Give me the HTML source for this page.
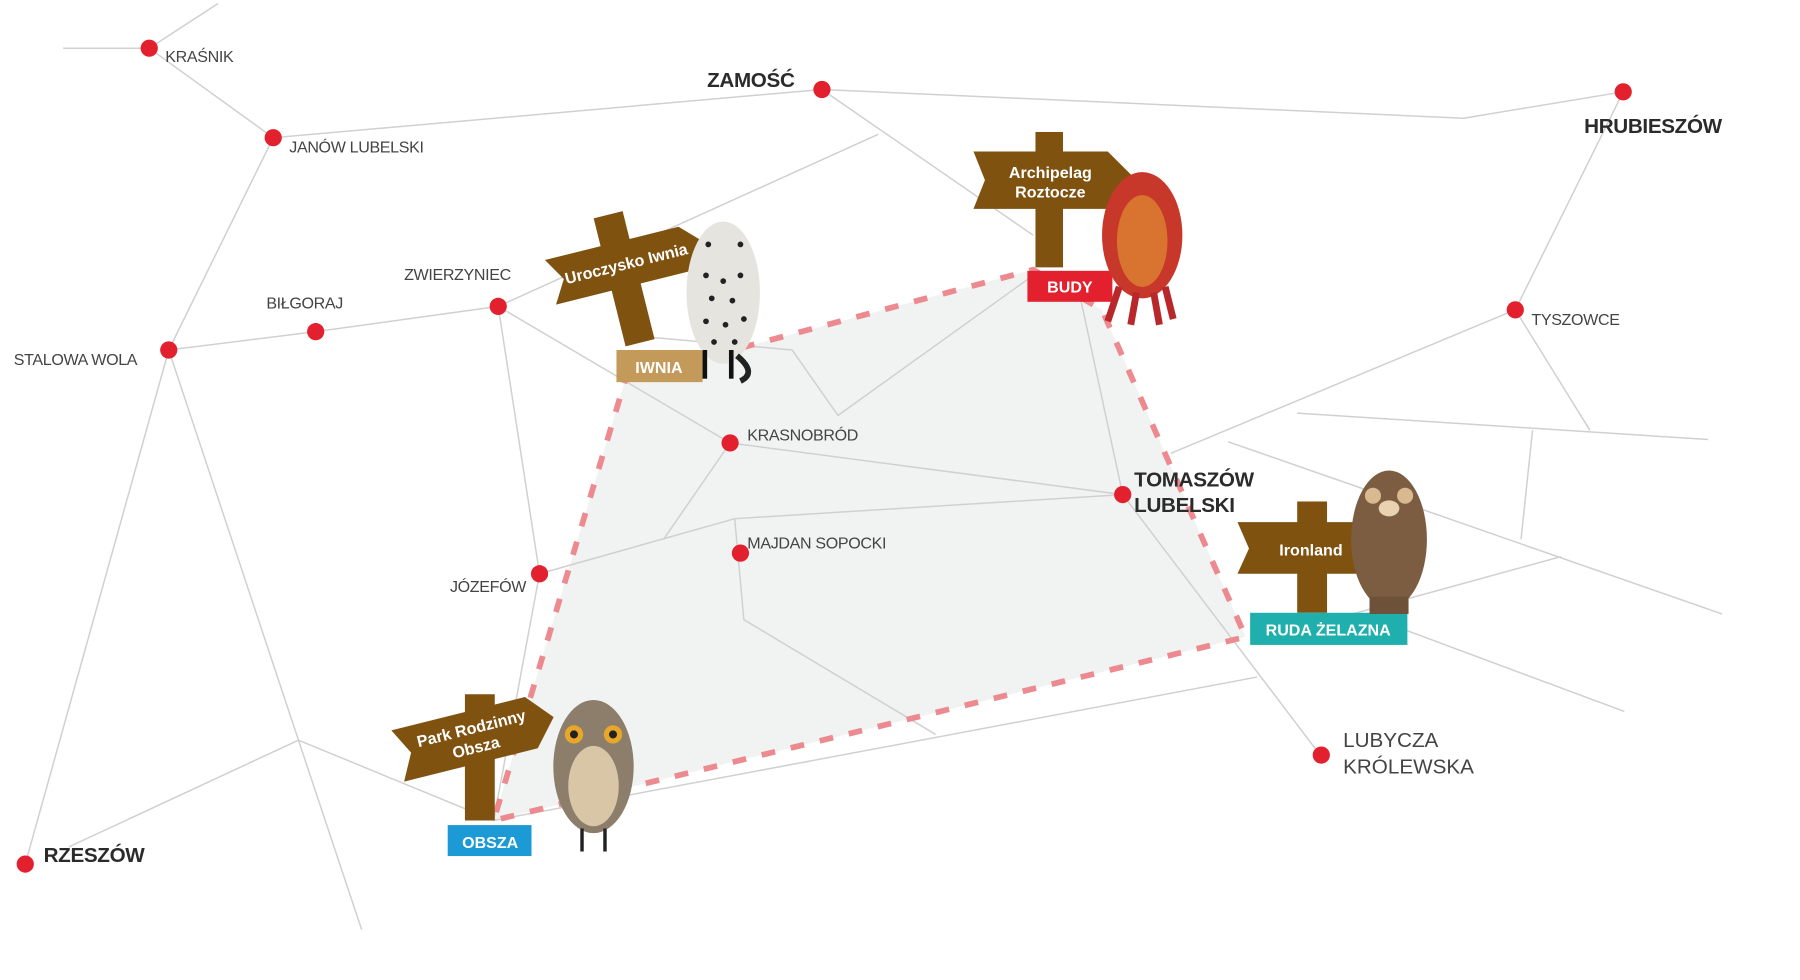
<!DOCTYPE html>
<html><head><meta charset="utf-8"><style>
html,body{margin:0;padding:0;background:#fff;width:1800px;height:980px;overflow:hidden}
svg{display:block}
text{font-family:"Liberation Sans",sans-serif}
.l{stroke:#d0d0d0;stroke-width:1.3;fill:none}
.c{fill:#e3202e}
.t{font-size:14px;fill:#444;letter-spacing:-0.3px}
.tb{font-size:18px;font-weight:bold;fill:#2b2b2b;letter-spacing:-0.3px}
.sg{fill:#fff;font-weight:bold;font-size:14px}
.post{fill:#7f5210}
</style></head><body>
<svg width="1800" height="980" viewBox="0 0 1568 854" preserveAspectRatio="none">
<polygon points="545,330 900,235 960,270 1085,555 430,715" fill="#f1f2f2"/>
<g class="l">
<path d="M55,42 L130,42 L190,3"/>
<path d="M130,42 L238,120 L716,78 L1275,103 L1414,80"/>
<path d="M716,78 L900,205"/>
<path d="M238,120 L147,305 L275,289 L434,267 L765,117"/>
<path d="M147,305 L22,753"/>
<path d="M147,305 L260,645 L315,810"/>
<path d="M260,645 L60,738"/>
<path d="M260,645 L430,715"/>
<path d="M434,267 L470,500 L430,715"/>
<path d="M434,267 L636,386 L978,431"/>
<path d="M636,386 L578,470"/>
<path d="M470,500 L640,452 L978,431"/>
<path d="M640,452 L648,540 L815,640"/>
<path d="M545,292 L690,305 L730,362 L900,240"/>
<path d="M978,431 L938,245"/>
<path d="M978,431 L1150,658"/>
<path d="M1020,395 L1320,270 L1414,80"/>
<path d="M1320,270 L1385,375"/>
<path d="M1130,360 L1488,383"/>
<path d="M1335,375 L1325,470"/>
<path d="M1070,385 L1500,535"/>
<path d="M1360,485 L1160,540"/>
<path d="M1200,540 L1415,620"/>
<path d="M430,715 L1095,590"/>
</g>
<polygon points="545,330 900,235 960,270 1085,555 430,715" fill="none" stroke="#ec8a8f" stroke-width="5" stroke-dasharray="12,14"/>
<g class="c">
<circle cx="130" cy="42" r="7.5"/><circle cx="238" cy="120" r="7.5"/><circle cx="716" cy="78" r="7.5"/>
<circle cx="1414" cy="80" r="7.5"/><circle cx="434" cy="267" r="7.5"/><circle cx="275" cy="289" r="7.5"/>
<circle cx="147" cy="305" r="7.5"/><circle cx="1320" cy="270" r="7.5"/><circle cx="636" cy="386" r="7.5"/>
<circle cx="978" cy="431" r="7.5"/><circle cx="645" cy="482" r="7.5"/><circle cx="470" cy="500" r="7.5"/>
<circle cx="1151" cy="658" r="7.5"/><circle cx="22" cy="753" r="7.5"/>
</g>
<text class="t" x="144" y="54">KRAŚNIK</text>
<text class="t" x="252" y="133">JANÓW LUBELSKI</text>
<text class="tb" x="616" y="76">ZAMOŚĆ</text>
<text class="tb" x="1380" y="116">HRUBIESZÓW</text>
<text class="t" x="352" y="244">ZWIERZYNIEC</text>
<text class="t" x="232" y="269">BIŁGORAJ</text>
<text class="t" x="12" y="318">STALOWA WOLA</text>
<text class="t" x="1334" y="283">TYSZOWCE</text>
<text class="t" x="651" y="384">KRASNOBRÓD</text>
<text class="tb" x="988" y="424">TOMASZÓW</text>
<text class="tb" x="988" y="446">LUBELSKI</text>
<text class="t" x="651" y="478">MAJDAN SOPOCKI</text>
<text class="t" x="392" y="516">JÓZEFÓW</text>
<text x="1170" y="651" style="font-size:18px;fill:#444">LUBYCZA</text>
<text x="1170" y="674" style="font-size:18px;fill:#444">KRÓLEWSKA</text>
<text class="tb" x="38" y="751">RZESZÓW</text>

<g transform="rotate(-14 545 240)">
<rect class="post" x="530" y="185" width="26" height="115"/>
<polygon class="post" points="480,210 600,210 620,230 600,250 480,250 492,230"/>
<text class="sg" x="548" y="235" text-anchor="middle">Uroczysko Iwnia</text>
</g>
<rect x="537" y="305" width="75" height="28" fill="#c49a5a"/>
<text class="sg" x="574" y="325" text-anchor="middle">IWNIA</text>
<ellipse cx="630" cy="255" rx="32" ry="62" fill="#e6e4df"/>
<path d="M642,310 Q660,325 645,332" stroke="#222" stroke-width="5" fill="none"/>
<rect x="612" y="305" width="4" height="25" fill="#111"/><rect x="635" y="305" width="4" height="25" fill="#111"/>
<g fill="#222"><circle cx="615" cy="240" r="2.5"/><circle cx="630" cy="245" r="2.5"/><circle cx="645" cy="240" r="2.5"/><circle cx="620" cy="260" r="2.5"/><circle cx="638" cy="262" r="2.5"/><circle cx="615" cy="280" r="2.5"/><circle cx="632" cy="283" r="2.5"/><circle cx="648" cy="278" r="2.5"/><circle cx="622" cy="298" r="2.5"/><circle cx="640" cy="298" r="2.5"/><circle cx="617" cy="213" r="2.5"/><circle cx="645" cy="213" r="2.5"/></g>

<rect class="post" x="902" y="115" width="24" height="118"/>
<polygon class="post" points="848,132 965,132 990,157 965,182 848,182 858,157"/>
<text class="sg" x="915" y="155" text-anchor="middle">Archipelag</text>
<text class="sg" x="915" y="172" text-anchor="middle">Roztocze</text>
<rect x="895" y="236" width="74" height="27" fill="#e3202e"/>
<text class="sg" x="932" y="255" text-anchor="middle">BUDY</text>
<ellipse cx="995" cy="205" rx="35" ry="55" fill="#c7372a"/>
<ellipse cx="995" cy="210" rx="22" ry="40" fill="#d8742f"/>
<path d="M975,250 L965,280 M990,255 L985,283 M1005,255 L1010,283 M1015,250 L1022,278" stroke="#b8282a" stroke-width="6"/>

<rect class="post" x="1130" y="437" width="26" height="97"/>
<polygon class="post" points="1078,455 1192,455 1192,500 1078,500 1088,478"/>
<text class="sg" x="1142" y="484" text-anchor="middle">Ironland</text>
<rect x="1089" y="534" width="137" height="28" fill="#1fafac"/>
<text class="sg" x="1157" y="554" text-anchor="middle">RUDA ŻELAZNA</text>
<ellipse cx="1210" cy="470" rx="33" ry="60" fill="#7d5d42"/>
<rect x="1193" y="520" width="34" height="15" fill="#6e5139"/>
<circle cx="1196" cy="432" r="7" fill="#d9b990"/><circle cx="1224" cy="432" r="7" fill="#d9b990"/>
<ellipse cx="1210" cy="443" rx="9" ry="7" fill="#e8d2b0"/>

<rect class="post" x="405" y="605" width="26" height="110"/>
<g transform="rotate(-14 410 645)">
<polygon class="post" points="345,620 465,620 485,643 465,666 345,666 357,643"/>
<text class="sg" x="413" y="640" text-anchor="middle">Park Rodzinny</text>
<text class="sg" x="413" y="657" text-anchor="middle">Obsza</text>
</g>
<rect x="390" y="719" width="73" height="27" fill="#1c9ad6"/>
<text class="sg" x="427" y="739" text-anchor="middle">OBSZA</text>
<ellipse cx="517" cy="668" rx="35" ry="58" fill="#8d7e6b"/>
<ellipse cx="517" cy="685" rx="22" ry="35" fill="#d8c6a6"/>
<circle cx="500" cy="640" r="8" fill="#e8a62a"/><circle cx="534" cy="640" r="8" fill="#e8a62a"/>
<circle cx="500" cy="640" r="3.5" fill="#222"/><circle cx="534" cy="640" r="3.5" fill="#222"/>
<path d="M507,722 L507,742 M527,722 L527,742" stroke="#222" stroke-width="3"/>
</svg>
</body></html>
